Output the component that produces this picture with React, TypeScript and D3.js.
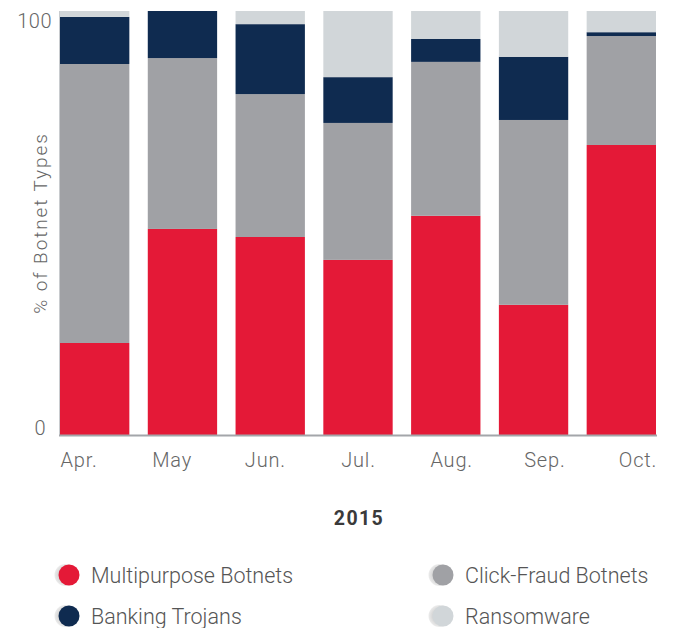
import React from "react";
import * as d3 from "d3";

const months = ["Apr.", "May", "Jun.", "Jul.", "Aug.", "Sep.", "Oct."];
const multipurpose = [21.7, 48.6, 46.7, 41.3, 51.7, 30.7, 68.4];
const clickFraud = [65.8, 40.3, 33.7, 32.3, 36.3, 43.6, 25.7];
const bankingTrojans = [11.1, 11.1, 16.5, 10.8, 5.4, 14.9, 0.9];
const ransomware = [1.4, 0.0, 3.1, 15.6, 6.6, 10.8, 5.0];
const seriesNames = ["Multipurpose Botnets", "Click-Fraud Botnets", "Banking Trojans", "Ransomware"];
const seriesColors = ["#E41937", "#A0A1A5", "#0F2B50", "#D1D6D9"];
const yTicks = [0, 100];

const W = 673;
const H = 628;

export default function App() {
  const x = d3.scaleBand<string>().domain(months).range([60, 656]).paddingInner(0.21).paddingOuter(0);
  const xLabel = d3.scalePoint<string>().domain(months).range([79, 638]);
  const y = d3.scaleLinear().domain([0, 100]).range([435, 11]);
  const rows = months.map((m, i) => ({
    month: m,
    s0: multipurpose[i],
    s1: clickFraud[i],
    s2: bankingTrojans[i],
    s3: ransomware[i],
  }));
  const stack = d3.stack<any>().keys(["s0", "s1", "s2", "s3"]);
  const layers = stack(rows);
  const font = "Roboto, 'Open Sans', sans-serif";
  const legendPos = [
    { cx: 69, cy: 575 },
    { cx: 443, cy: 575 },
    { cx: 69, cy: 616 },
    { cx: 443, cy: 616 },
  ];
  return (
    <svg width={W} height={H} style={{ position: "absolute", left: 0, top: 0 }} fontFamily={font}>
      <defs>
        <radialGradient id="shadow" cx="0.5" cy="0.5" r="0.5">
          <stop offset="0.6" stopColor="#d4d4d4" />
          <stop offset="1" stopColor="#ececec" />
        </radialGradient>
      </defs>
      <rect width={W} height={H} fill="#fff" />
      {layers.map((layer, li) => (
        <g key={li} fill={seriesColors[li]}>
          {layer.map((d: any, i: number) => (
            <rect
              key={i}
              x={x(months[i])}
              y={y(d[1])}
              width={x.bandwidth()}
              height={Math.max(0, y(d[0]) - y(d[1]))}
            />
          ))}
        </g>
      ))}
      <line x1={59.5} x2={59.5} y1={11} y2={436} stroke="#c8cbce" strokeWidth={1} />
      <line x1={59} x2={657} y1={435.5} y2={435.5} stroke="#a3a6aa" strokeWidth={2} />
      {yTicks.map((t) => (
        <text
          key={t}
          x={t === 0 ? 46 : 52}
          y={t === 0 ? y(t) : y(t) + 17}
          textAnchor="end"
          fontSize={20}
          fill="#666"
          fontWeight={300}
          letterSpacing={0.5}
        >
          {t}
        </text>
      ))}
      <text
        transform={`translate(47,223) rotate(-90)`}
        textAnchor="middle"
        fontSize={19}
        fill="#666"
        fontWeight={300}
        letterSpacing={1.9}
      >
        % of Botnet Types
      </text>
      {months.map((m) => (
        <text
          key={m}
          x={xLabel(m) as number}
          y={467}
          textAnchor="middle"
          fontSize={20}
          fill="#666"
          fontWeight={300}
          letterSpacing={0.8}
        >
          {m}
        </text>
      ))}
      <text x={359} y={525} textAnchor="middle" fontSize={19.5} fontWeight={700} fill="#3a3a3a" letterSpacing={1.4}>
        2015
      </text>
      {seriesNames.map((name, i) => (
        <g key={name}>
          <circle cx={legendPos[i].cx - 3.5} cy={legendPos[i].cy} r={11} fill="url(#shadow)" />
          <circle cx={legendPos[i].cx} cy={legendPos[i].cy} r={10.5} fill={seriesColors[i]} />
          <text
            x={legendPos[i].cx + 22}
            y={legendPos[i].cy + 8}
            fontSize={21.5}
            fill="#555"
            fontWeight={300}
          >
            {name}
          </text>
        </g>
      ))}
    </svg>
  );
}
